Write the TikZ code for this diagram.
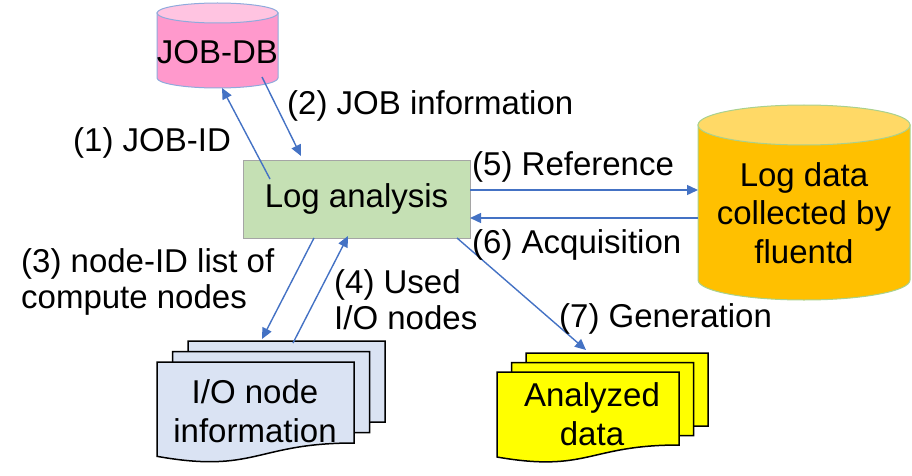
\documentclass[tikz,border=0pt]{standalone}
\usepackage{fontspec}
\setmainfont{Liberation Sans}
\usetikzlibrary{arrows.meta}
\definecolor{arrowblue}{HTML}{4472C4}
\definecolor{lagreen}{HTML}{C5E0B4}
\definecolor{lagray}{HTML}{A5A5A5}
\definecolor{dbpink}{HTML}{FF99CC}
\definecolor{dbpinktop}{HTML}{FFC4E1}
\definecolor{dbline}{HTML}{8FAADC}
\definecolor{logorange}{HTML}{FFC000}
\definecolor{logtop}{HTML}{FFD966}
\definecolor{logline}{HTML}{A9D18E}
\definecolor{docblue}{HTML}{DAE3F3}
\definecolor{docyellow}{HTML}{FFFF00}
% #1 left x, #2 top y, #3 width, #4 right drop, #5 fill
\newcommand\mydocshape[5]{%
  \draw[docline, fill=#5] (#1,#2) -- ({#1+#3},#2) -- ({#1+#3},{#2+#4})
    .. controls ({#1+0.5*#3},{#2+#4}) and ({#1+0.5*#3},{#2+1.381*#4}) .. (#1,{#2+1.1646*#4}) -- cycle;}
\tikzset{
  docline/.style={draw=black, line width=1.5pt},
  conn/.style={draw=arrowblue, line width=1.4pt, -{Triangle[length=11pt,width=10pt]}},
  lbl/.style={inner sep=0pt, anchor=base west},
  intext/.style={inner sep=0pt, align=center, font=\fontsize{33}{38.5}\selectfont},
}
\begin{document}
\begin{tikzpicture}[x=1pt, y=-1pt, font=\fontsize{33}{36}\selectfont]
\useasboundingbox (0,0) rectangle (912,476);

% JOB-DB cylinder
\path[fill=dbpink, draw=dbline, line width=1pt] (157,13) -- (157,78) arc[start angle=180, end angle=0, x radius=60.5, y radius=10] -- (278,13) -- cycle;
\draw[fill=dbpinktop, draw=dbline, line width=1pt] (217.5,13) ellipse[x radius=60.5, y radius=10];
\node[intext] (jobdb) at (217.5,52) {JOB-DB};

% Log data cylinder
\path[fill=logorange, draw=logline, line width=1pt] (698,125) -- (698,280) arc[start angle=180, end angle=0, x radius=106, y radius=20] -- (910,125) -- cycle;
\draw[fill=logtop, draw=logline, line width=1pt] (804,125) ellipse[x radius=106, y radius=20];
\node[intext] (logdata) at (804,213) {Log data\\collected by\\fluentd};

% Log analysis
\node[draw=lagray, fill=lagreen, line width=1pt, minimum width=227pt, minimum height=78pt, inner sep=0pt] (la) at (356.5,199) {Log analysis};

% I/O node documents
\mydocshape{188}{341}{197}{81}{docblue}
\mydocshape{172.5}{351.5}{197}{81}{docblue}
\mydocshape{157}{362}{197}{81}{docblue}
\node[intext] (ioinfo) at (255,411) {I/O node\\information};

% Analyzed data documents
\mydocshape{526}{353}{182}{73}{docyellow}
\mydocshape{511.5}{362.5}{182}{73}{docyellow}
\mydocshape{497}{372}{182}{73}{docyellow}
\node[intext] (analyzed) at (592,414) {Analyzed\\data};

% connector end points
\coordinate (a1s) at (270,179);
\coordinate (a1e) at (222,88);
\coordinate (a2s) at (262,77);
\coordinate (a2e) at (301,156);
\coordinate (a3s) at (314,238);
\coordinate (a3e) at (262,339);
\coordinate (a4s) at (293,343);
\coordinate (a4e) at (348,236);
\coordinate (a5s) at (470,190);
\coordinate (a5e) at (698,190);
\coordinate (a6s) at (698,218);
\coordinate (a6e) at (470,218);
\coordinate (a7s) at (457,238);
\coordinate (a7e) at (586,350);

\draw[conn] (a1s) -- (a1e);
\draw[conn] (a2s) -- (a2e);
\draw[conn] (a3s) -- (a3e);
\draw[conn] (a4s) -- (a4e);
\draw[conn] (a5s) -- (a5e);
\draw[conn] (a6s) -- (a6e);
\draw[conn] (a7s) -- (a7e);

% labels
\node[lbl] (l1) at (73,151) {(1) JOB-ID};
\node[lbl] (l2) at (287,115) {(2) JOB information};
\node[lbl] (l5) at (472,175) {(5) Reference};
\node[lbl] (l6) at (472,253) {(6) Acquisition};
\node[lbl] (l3) at (21,272) {(3) node-ID list of};
\node[lbl] (l3b) at (21,308) {compute nodes};
\node[lbl] (l4) at (334,293) {(4) Used};
\node[lbl] (l4b) at (334,329) {I/O nodes};
\node[lbl] (l7) at (559,327) {(7) Generation};
\end{tikzpicture}
\end{document}
